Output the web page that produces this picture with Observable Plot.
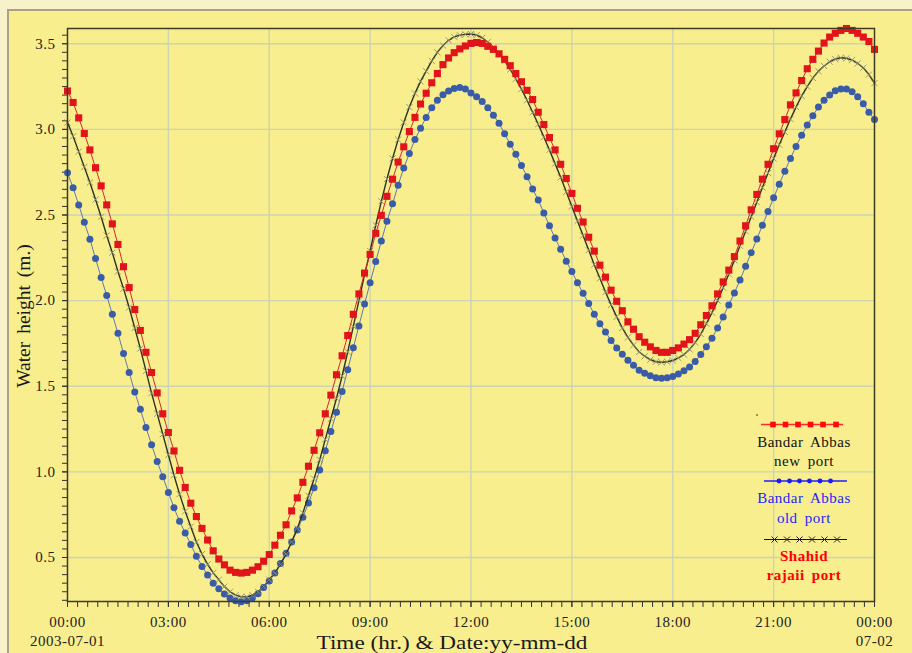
<!DOCTYPE html>
<html><head><meta charset="utf-8">
<script src="https://cdn.jsdelivr.net/npm/d3@7"></script>
<script src="https://cdn.jsdelivr.net/npm/@observablehq/plot@0.6"></script>
<style>
html,body{margin:0;padding:0;width:912px;height:653px;overflow:hidden;background:#f7f2c9;font-family:"Liberation Serif",serif;}
#frame{position:absolute;left:7px;top:9px;width:920px;height:660px;background:#f8ee8e;border-left:2px solid #a9a185;border-top:2px solid #a9a185;}
#chart{position:absolute;left:0;top:0;}
.ttl{position:absolute;color:#1a1a1a;white-space:nowrap;font-family:"Liberation Serif",serif;}
#ytitle{left:24px;top:316px;font-size:19.5px;transform:translate(-50%,-50%) rotate(-90deg);word-spacing:3px;}
#xtitle{left:452px;top:643px;font-size:19px;transform:translate(-50%,-50%) scaleX(1.22);}
#legend{position:absolute;left:0;top:0;pointer-events:none;}
.lg{position:absolute;transform:translate(-50%,-50%);font-family:"Liberation Serif",serif;font-size:15px;letter-spacing:0.5px;word-spacing:3px;white-space:nowrap;}
</style>
</head><body>
<div id="frame"></div>
<div id="chart"></div>
<div class="ttl" id="ytitle">Water height (m.)</div>
<div class="ttl" id="xtitle">Time (hr.) &amp; Date:yy-mm-dd</div>
<svg id="legend" width="912" height="653"></svg>
<div class="lg" style="left:804px;top:442px;color:#111">Bandar Abbas</div>
<div class="lg" style="left:804px;top:461px;color:#111">new port</div>
<div class="lg" style="left:804px;top:498px;color:#1f1fff">Bandar Abbas</div>
<div class="lg" style="left:804px;top:518px;color:#1f1fff">old port</div>
<div class="lg" style="left:804px;top:556px;color:#ff0000;font-weight:bold">Shahid</div>
<div class="lg" style="left:804px;top:575px;color:#ff0000;font-weight:bold">rajaii port</div>
<script>
// sampling every 10 minutes over 2003-07-01 00:00 .. 2003-07-02 00:00
const times = d3.range(0, 1441, 10);

// Bandar Abbas new port (m)
const newPort = [
3.224,3.157,3.067,2.976,2.880,2.776,2.670,2.559,2.448,2.328,
2.198,2.076,1.948,1.826,1.698,1.580,1.461,1.339,1.230,1.122,
1.009,0.909,0.817,0.739,0.670,0.602,0.539,0.491,0.457,0.426,
0.413,0.409,0.413,0.426,0.446,0.478,0.517,0.572,0.630,0.691,
0.772,0.848,0.939,1.033,1.126,1.228,1.339,1.448,1.567,1.678,
1.796,1.920,2.039,2.161,2.270,2.393,2.498,2.609,2.709,2.809,
2.898,2.987,3.070,3.148,3.211,3.272,3.326,3.378,3.417,3.448,
3.470,3.487,3.502,3.507,3.502,3.485,3.467,3.441,3.409,3.372,
3.326,3.278,3.228,3.174,3.100,3.028,2.952,2.880,2.796,2.713,
2.626,2.539,2.459,2.370,2.289,2.207,2.137,2.061,1.996,1.941,
1.876,1.833,1.789,1.757,1.730,1.709,1.698,1.698,1.709,1.724,
1.746,1.772,1.809,1.859,1.913,1.970,2.039,2.109,2.178,2.257,
2.348,2.437,2.530,2.620,2.709,2.796,2.887,2.974,3.057,3.143,
3.213,3.285,3.354,3.409,3.457,3.504,3.539,3.561,3.578,3.589,
3.578,3.561,3.539,3.513,3.467];

// Bandar Abbas old port (m)
const oldPort = [
2.746,2.659,2.559,2.457,2.359,2.246,2.135,2.030,1.920,1.809,
1.691,1.580,1.467,1.365,1.259,1.159,1.061,0.972,0.880,0.791,
0.711,0.643,0.576,0.507,0.448,0.398,0.350,0.317,0.287,0.263,
0.248,0.242,0.248,0.263,0.288,0.325,0.362,0.410,0.465,0.525,
0.590,0.660,0.735,0.818,0.907,1.011,1.124,1.235,1.348,1.470,
1.597,1.725,1.852,1.980,2.104,2.228,2.348,2.463,2.565,2.674,
2.774,2.859,2.941,3.007,3.070,3.126,3.170,3.202,3.224,3.239,
3.244,3.235,3.213,3.191,3.163,3.126,3.083,3.035,2.974,2.913,
2.854,2.789,2.724,2.652,2.587,2.511,2.437,2.365,2.300,2.230,
2.170,2.104,2.043,1.983,1.920,1.865,1.817,1.767,1.724,1.687,
1.652,1.622,1.593,1.576,1.561,1.550,1.546,1.549,1.557,1.572,
1.590,1.613,1.645,1.685,1.730,1.780,1.840,1.905,1.975,2.045,
2.120,2.200,2.280,2.360,2.440,2.520,2.600,2.680,2.755,2.830,
2.900,2.965,3.025,3.080,3.130,3.170,3.200,3.225,3.235,3.235,
3.220,3.190,3.150,3.100,3.057];

// Shahid rajaii port (m)
const rajaii = [
3.04,2.96,2.87,2.78,2.69,2.59,2.49,2.38,2.28,2.17,
2.07,1.96,1.84,1.72,1.59,1.46,1.34,1.22,1.10,0.98,
0.87,0.77,0.68,0.59,0.52,0.46,0.41,0.37,0.33,0.30,
0.28,0.27,0.27,0.28,0.30,0.33,0.37,0.41,0.46,0.52,
0.59,0.67,0.76,0.86,0.96,1.07,1.19,1.31,1.43,1.56,
1.70,1.85,2.00,2.15,2.29,2.44,2.58,2.71,2.83,2.94,
3.04,3.13,3.21,3.28,3.34,3.40,3.45,3.49,3.52,3.54,
3.55,3.555,3.557,3.55,3.535,3.51,3.48,3.445,3.40,3.35,
3.295,3.235,3.17,3.10,3.03,2.955,2.88,2.80,2.72,2.635,
2.55,2.465,2.38,2.295,2.21,2.13,2.05,1.975,1.905,1.84,
1.785,1.74,1.70,1.675,1.655,1.643,1.64,1.643,1.65,1.665,
1.685,1.715,1.755,1.805,1.865,1.93,2.00,2.075,2.155,2.235,
2.32,2.405,2.49,2.575,2.66,2.745,2.83,2.91,2.985,3.06,
3.13,3.195,3.25,3.30,3.34,3.37,3.395,3.41,3.418,3.415,
3.405,3.385,3.36,3.32,3.27];

const xMajor = [0,180,360,540,720,900,1080,1260,1440];
const xTickLabels = ["00:00\n2003-07-01","03:00","06:00","09:00","12:00","15:00","18:00","21:00","00:00\n07-02"];
const xMinor = d3.range(0, 1441, 18);
const yMajor = [0.5,1.0,1.5,2.0,2.5,3.0,3.5];
const yMinor = d3.range(5, 72).map(k => k * 0.05);

const rows = (vals) => times.map((t, i) => ({t, v: vals[i]}));
const dNew = rows(newPort), dOld = rows(oldPort), dRaj = rows(rajaii);
const xLab = new Map(xMajor.map((v, i) => [v, xTickLabels[i]]));

const plot = Plot.plot({
  width: 912, height: 653,
  marginLeft: 67, marginRight: 38, marginTop: 28, marginBottom: 52,
  style: {background: "transparent", fontFamily: "Liberation Serif, serif", fontSize: "15px", color: "#222", letterSpacing: "0.5px"},
  x: {type: "linear", domain: [0, 1440]},
  y: {domain: [0.243, 3.589]},
  marks: [
    Plot.gridX(xMajor.slice(1, -1), {stroke: "#c9d2b4", strokeOpacity: 0.95, strokeWidth: 1.4}),
    Plot.gridY(yMajor, {stroke: "#c9d2b4", strokeOpacity: 0.95, strokeWidth: 1.4}),
    Plot.axisY(yMinor, {tickSize: 5, fill: "none", stroke: "#333", label: null}),
    Plot.axisY(yMajor, {tickSize: 5, tickPadding: 7, tickFormat: d3.format(".1f"), fontSize: 15, stroke: "#333", fill: "#222", label: null}),
    Plot.axisX(xMinor, {tickSize: 6, fill: "none", stroke: "#333", label: null}),
    Plot.axisX(xMajor, {tickSize: 6, tickPadding: 6, tickFormat: d => xLab.get(d), fontSize: 15, lineHeight: 1.28, stroke: "#333", fill: "#222", label: null}),
    Plot.line(dOld, {x: "t", y: "v", stroke: "#5f79aa", strokeWidth: 1}),
    Plot.dot(dOld, {x: "t", y: "v", r: 3.5, fill: "#3a5ca8", stroke: "none"}),
    Plot.line(dRaj, {x: "t", y: "v", stroke: "#2d3320", strokeWidth: 1.4}),
    Plot.dot(dRaj, {x: "t", y: "v", symbol: "times", r: 2.9, stroke: "#8f8f70", strokeWidth: 0.9}),
    Plot.line(dNew, {x: "t", y: "v", stroke: "#d42a2a", strokeWidth: 1}),
    Plot.dot(dNew, {x: "t", y: "v", symbol: "square", r: 4.0, fill: "#e0141a", stroke: "none"}),
    Plot.frame({stroke: "#3c3a22", strokeWidth: 1.5})
  ]
});
document.getElementById("chart").appendChild(plot);

// legend samples
const lg = d3.select("#legend");
lg.append("circle").attr("cx", 757).attr("cy", 415).attr("r", 0.8).attr("fill", "#222");
lg.append("line").attr("x1", 761).attr("x2", 843).attr("y1", 424.5).attr("y2", 424.5).attr("stroke", "#ff2a2a").attr("stroke-width", 1.5);
[773, 785.5, 798, 810.5, 823, 836].forEach(x => lg.append("rect").attr("x", x - 2.8).attr("y", 421.7).attr("width", 5.6).attr("height", 5.6).attr("fill", "#ff0a0a"));
lg.append("line").attr("x1", 764).attr("x2", 847).attr("y1", 481).attr("y2", 481).attr("stroke", "#1f1fff").attr("stroke-width", 1.3);
[779, 789.5, 799.5, 809.5, 820, 830.5].forEach(x => lg.append("circle").attr("cx", x).attr("cy", 481).attr("r", 2.4).attr("fill", "#1a1aff"));
lg.append("line").attr("x1", 764).attr("x2", 847).attr("y1", 539.5).attr("y2", 539.5).attr("stroke", "#111").attr("stroke-width", 1.2);
[774.5, 787, 799.5, 812, 824.5, 837].forEach(x => lg.append("path").attr("d", `M${x-3},${536.5}L${x+3},${542.5}M${x+3},${536.5}L${x-3},${542.5}`).attr("stroke", "#222").attr("stroke-width", 1));
</script>
</body></html>
